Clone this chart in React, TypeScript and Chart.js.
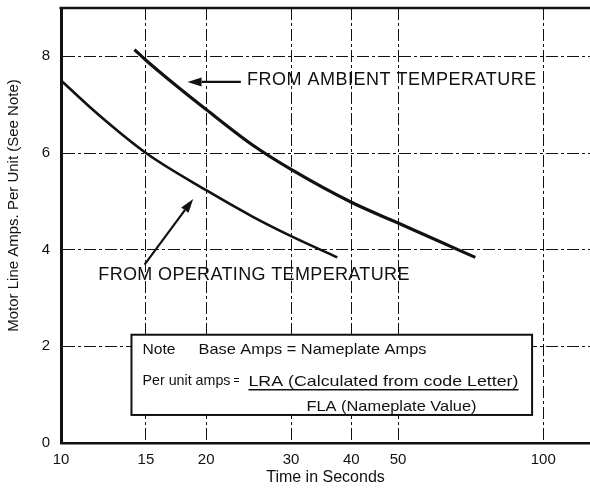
import React, { useEffect, useRef } from 'react';
import { Chart, registerables } from 'chart.js';

Chart.register(...registerables);

// ---- data ----
const ambientTime = [14.2, 15, 17.5, 20, 25, 30, 40, 50, 60, 72.3];
const ambientAmps = [8.14, 7.92, 7.36, 6.9, 6.16, 5.66, 4.98, 4.55, 4.2, 3.84];
const operatingTime = [10, 12, 15, 20, 25, 30, 37.4];
const operatingAmps = [7.5, 6.78, 6.0, 5.23, 4.68, 4.28, 3.84];
const xTicks = [10, 15, 20, 30, 40, 50, 100];
const yTicks = [0, 2, 4, 6, 8];
const xMin = 10;
const xMax = 125;
const yMin = 0;
const yMax = 9;

const xTitle = 'Time in Seconds';
const yTitle = 'Motor Line Amps. Per Unit (See Note)';
const ambientLabel = 'FROM AMBIENT TEMPERATURE';
const operatingLabel = 'FROM OPERATING TEMPERATURE';
const noteLine1a = 'Note';
const noteLine1b = 'Base Amps = Nameplate Amps';
const noteLine2a = 'Per unit amps';
const noteEquals = '=';
const noteNumerator = 'LRA (Calculated from code Letter)';
const noteDenominator = 'FLA (Nameplate Value)';

// annotation anchors in data coordinates [time, amps]
const ambientLabelAt = [24.3, 7.52];
const ambientArrowFrom = [23.6, 7.47];
const ambientArrowTo = [18.3, 7.47];
const operatingLabelAt = [11.95, 3.48];
const operatingArrowFrom = [14.9, 3.69];
const operatingArrowTo = [18.8, 5.05];
const noteBoxFrom = [14.0, 2.24];
const noteBoxTo = [94.8, 0.58];

const INK = '#111';
const FONT = "'Liberation Sans', Arial, Helvetica, sans-serif";

function drawArrow(ctx: CanvasRenderingContext2D, x1: number, y1: number, x2: number, y2: number) {
  const ang = Math.atan2(y2 - y1, x2 - x1);
  const head = 14;
  const half = 4.5;
  const bx = x2 - head * Math.cos(ang);
  const by = y2 - head * Math.sin(ang);
  ctx.beginPath();
  ctx.moveTo(x1, y1);
  ctx.lineTo(bx, by);
  ctx.lineWidth = 2.2;
  ctx.stroke();
  ctx.beginPath();
  ctx.moveTo(x2, y2);
  ctx.lineTo(bx - half * Math.sin(ang), by + half * Math.cos(ang));
  ctx.lineTo(bx + half * Math.sin(ang), by - half * Math.cos(ang));
  ctx.closePath();
  ctx.fill();
}

// draw text stretched/condensed horizontally to a target width
function fitText(ctx: CanvasRenderingContext2D, text: string, x: number, y: number, width: number) {
  const w = ctx.measureText(text).width;
  ctx.save();
  ctx.translate(x, y);
  ctx.scale(width / w, 1);
  ctx.textAlign = 'left';
  ctx.fillText(text, 0, 0);
  ctx.restore();
}

const annotate = {
  id: 'annotate',
  afterDatasetsDraw(chart: any) {
    const { ctx, chartArea, scales } = chart;
    const px = (v: number) => scales.x.getPixelForValue(v);
    const py = (v: number) => scales.y.getPixelForValue(v);
    ctx.save();
    ctx.strokeStyle = INK;
    ctx.fillStyle = INK;

    // top frame line
    ctx.lineWidth = 2.5;
    ctx.beginPath();
    ctx.moveTo(chartArea.left - 1.5, chartArea.top);
    ctx.lineTo(chartArea.right, chartArea.top);
    ctx.stroke();

    // curve labels
    ctx.font = `18px ${FONT}`;
    ctx.textBaseline = 'middle';
    ctx.textAlign = 'left';
    (ctx as any).letterSpacing = '0.5px';
    ctx.fillText(ambientLabel, px(ambientLabelAt[0]), py(ambientLabelAt[1]));
    (ctx as any).letterSpacing = '0.35px';
    ctx.fillText(operatingLabel, px(operatingLabelAt[0]), py(operatingLabelAt[1]));
    (ctx as any).letterSpacing = '0px';
    drawArrow(ctx, px(ambientArrowFrom[0]), py(ambientArrowFrom[1]), px(ambientArrowTo[0]), py(ambientArrowTo[1]));
    drawArrow(ctx, px(operatingArrowFrom[0]), py(operatingArrowFrom[1]), px(operatingArrowTo[0]), py(operatingArrowTo[1]));

    // note box
    const bx1 = px(noteBoxFrom[0]);
    const by1 = py(noteBoxFrom[1]);
    const bx2 = px(noteBoxTo[0]);
    const by2 = py(noteBoxTo[1]);
    ctx.fillStyle = '#fff';
    ctx.fillRect(bx1, by1, bx2 - bx1, by2 - by1);
    ctx.lineWidth = 2;
    ctx.strokeRect(bx1, by1, bx2 - bx1, by2 - by1);
    ctx.fillStyle = INK;
    ctx.font = `15px ${FONT}`;
    ctx.textBaseline = 'middle';
    fitText(ctx, noteLine1a, bx1 + 11, by1 + 15, 33);
    fitText(ctx, noteLine1b, bx1 + 67, by1 + 15, 228);
    ctx.font = `14.5px ${FONT}`;
    fitText(ctx, noteLine2a, bx1 + 11, by1 + 46, 88);
    ctx.font = `12px ${FONT}`;
    fitText(ctx, noteEquals, bx1 + 102, by1 + 46, 6);
    ctx.font = `15px ${FONT}`;
    fitText(ctx, noteNumerator, bx1 + 117, by1 + 47, 270);
    ctx.lineWidth = 1.5;
    ctx.beginPath();
    ctx.moveTo(bx1 + 117, by1 + 55);
    ctx.lineTo(bx1 + 387, by1 + 55);
    ctx.stroke();
    fitText(ctx, noteDenominator, bx1 + 175, by1 + 72, 170);

    // y axis title
    ctx.save();
    ctx.translate(14, (chartArea.top + chartArea.bottom) / 2 - 20);
    ctx.rotate(-Math.PI / 2);
    ctx.font = `15px ${FONT}`;
    ctx.textAlign = 'center';
    ctx.textBaseline = 'middle';
    ctx.fillText(yTitle, 0, 0);
    ctx.restore();

    ctx.restore();
  },
};

export default function App() {
  const ref = useRef<HTMLCanvasElement>(null);
  useEffect(() => {
    const canvas = ref.current;
    if (!canvas) return;
    const chart = new Chart(canvas, {
      type: 'line',
      data: {
        datasets: [
          {
            label: 'From ambient temperature',
            data: ambientTime.map((t, i) => ({ x: t, y: ambientAmps[i] })),
            borderColor: INK,
            borderWidth: 3.2,
            pointRadius: 0,
            cubicInterpolationMode: 'monotone',
            fill: false,
          },
          {
            label: 'From operating temperature',
            data: operatingTime.map((t, i) => ({ x: t, y: operatingAmps[i] })),
            borderColor: INK,
            borderWidth: 2.6,
            pointRadius: 0,
            cubicInterpolationMode: 'monotone',
            fill: false,
          },
        ],
      },
      options: {
        responsive: false,
        animation: false,
        devicePixelRatio: 1,
        layout: { padding: { top: 8, right: 0, left: 0, bottom: 0 } },
        plugins: { legend: { display: false }, tooltip: { enabled: false } },
        scales: {
          x: {
            type: 'logarithmic',
            min: xMin,
            max: xMax,
            afterBuildTicks: (s: any) => {
              s.ticks = xTicks.map((v) => ({ value: v }));
            },
            afterFit: (s: any) => {
              s.height = 47;
              s.paddingLeft = 0;
              s.paddingRight = 0;
            },
            ticks: {
              autoSkip: false,
              maxRotation: 0,
              padding: 8,
              color: INK,
              font: { family: FONT, size: 15 },
              callback: (v: any) => String(v),
            },
            grid: { color: INK, lineWidth: 1, drawTicks: false },
            border: { color: INK, width: 2.5, dash: [12, 3, 3, 3] },
            title: {
              display: true,
              text: xTitle,
              color: INK,
              font: { family: FONT, size: 16 },
              padding: { top: 0, bottom: 3 },
            },
          },
          y: {
            type: 'linear',
            min: yMin,
            max: yMax,
            afterBuildTicks: (s: any) => {
              s.ticks = yTicks.map((v) => ({ value: v }));
            },
            afterFit: (s: any) => {
              s.width = 61;
              s.paddingTop = 0;
              s.paddingBottom = 0;
            },
            ticks: {
              padding: 11,
              color: INK,
              font: { family: FONT, size: 15 },
              callback: (v: any) => String(v),
            },
            grid: { color: INK, lineWidth: 1, drawTicks: false },
            border: { color: INK, width: 3, dash: [12, 3, 3, 3] },
          },
        },
      },
      plugins: [annotate],
    } as any);
    return () => chart.destroy();
  }, []);
  return (
    <div style={{ position: 'fixed', left: 0, top: 0, width: 590, height: 490, background: '#fff' }}>
      <canvas ref={ref} width={590} height={490} style={{ display: 'block', width: 590, height: 490 }} />
    </div>
  );
}
